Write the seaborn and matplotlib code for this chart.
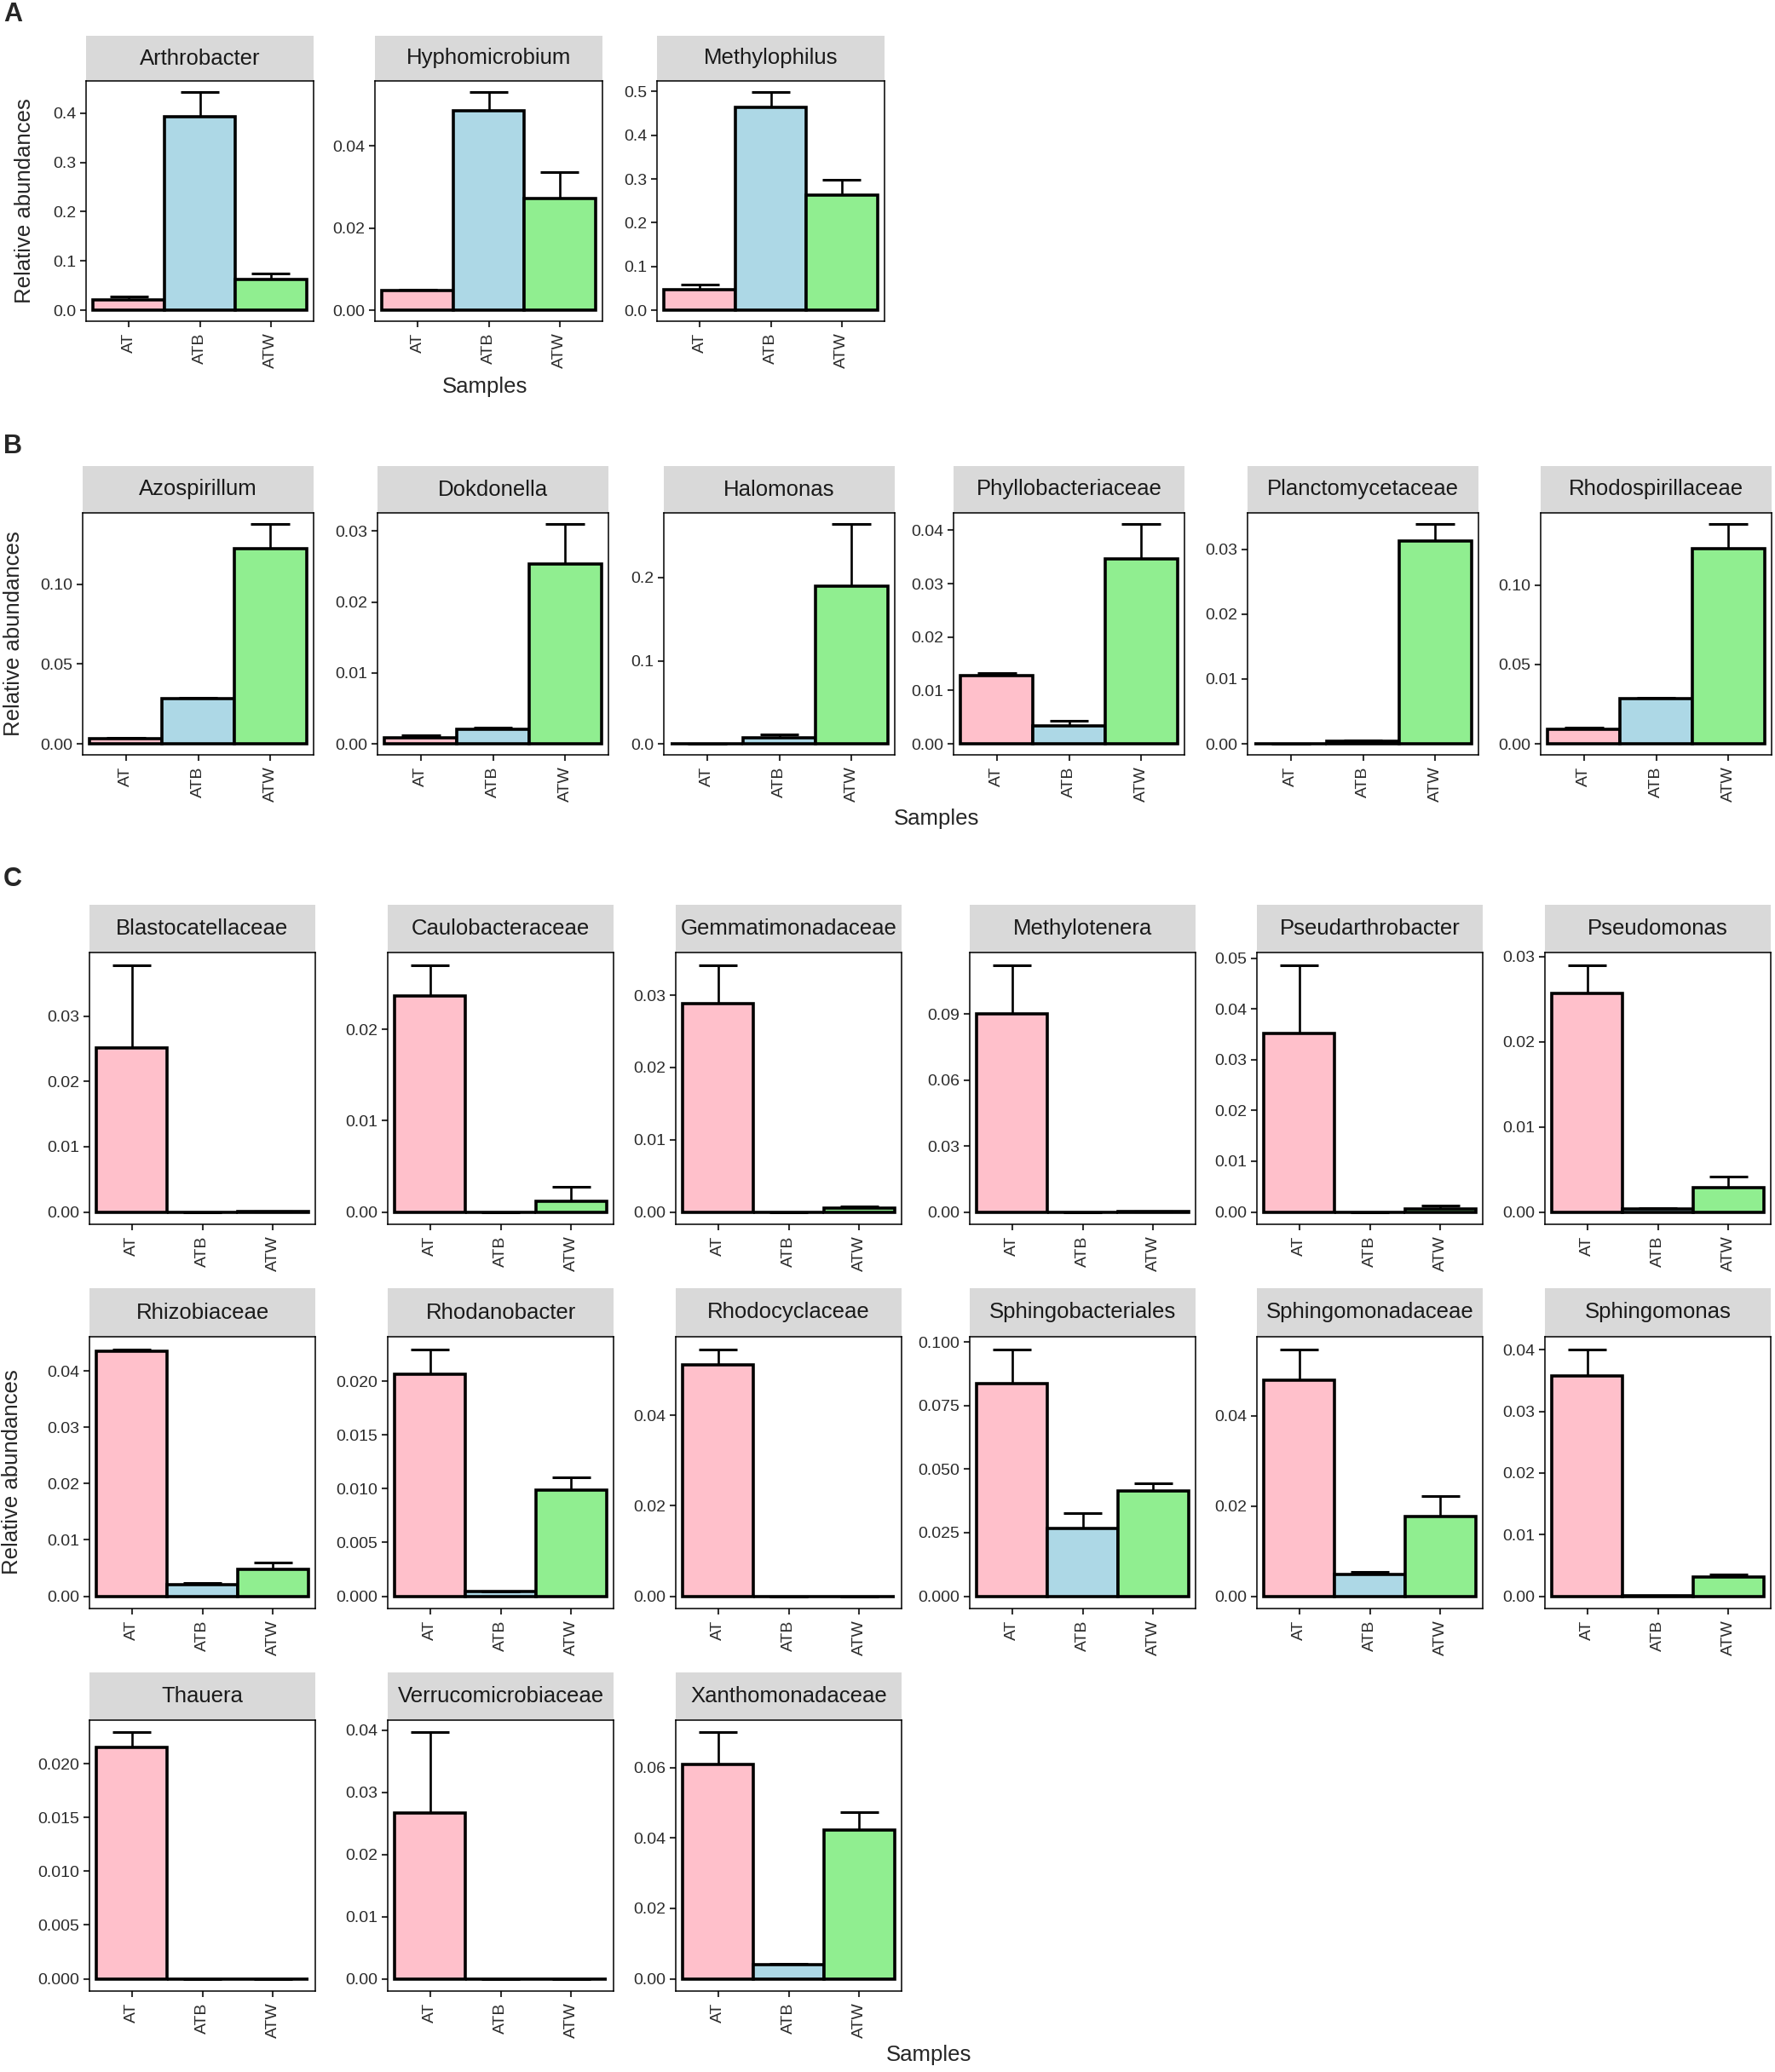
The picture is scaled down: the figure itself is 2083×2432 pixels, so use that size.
import numpy as np
import pandas as pd
import matplotlib
matplotlib.use("Agg")
import matplotlib.pyplot as plt
import seaborn as sns


# ======================================================
#   theme
# ======================================================
sns.set_theme(style="white", context="notebook")
plt.rcParams["font.family"] = ["Liberation Sans", "DejaVu Sans"]


# ======================================================
#   data (mean relative abundance, standard error)
# ======================================================
SAMPLES = ["AT", "ATB", "ATW"]
PALETTE = {"AT": "#FFC0CB", "ATB": "#ADD8E6", "ATW": "#90EE90"}

# ---- panel A ----
a_taxa = ["Arthrobacter", "Hyphomicrobium", "Methylophilus"]
a_mean = [
    [0.021, 0.392, 0.063],
    [0.0049, 0.0485, 0.0271],
    [0.048, 0.463, 0.2635],
]
a_se = [
    [0.007, 0.051, 0.011],
    [0.0001, 0.0046, 0.0065],
    [0.011, 0.036, 0.0355],
]
a_ticks = [
    [0.0, 0.1, 0.2, 0.3, 0.4],
    [0.00, 0.02, 0.04],
    [0.0, 0.1, 0.2, 0.3, 0.4, 0.5],
]
a_decimals = [1, 2, 1]

# ---- panel B ----
b_taxa = ["Azospirillum", "Dokdonella", "Halomonas",
          "Phyllobacteriaceae", "Planctomycetaceae", "Rhodospirillaceae"]
b_mean = [
    [0.003, 0.0281, 0.1222],
    [0.0009, 0.00204, 0.0253],
    [0.0, 0.0072, 0.190],
    [0.0128, 0.0034, 0.0346],
    [0.00005, 0.0004, 0.0312],
    [0.0091, 0.0283, 0.1229],
]
b_se = [
    [0.0006, 0.0009, 0.0155],
    [0.0003, 0.0002, 0.0057],
    [0.0, 0.0044, 0.0746],
    [0.0005, 0.0009, 0.0066],
    [0.00002, 0.0002, 0.0027],
    [0.0011, 0.0007, 0.0156],
]
b_ticks = [
    [0.00, 0.05, 0.10],
    [0.00, 0.01, 0.02, 0.03],
    [0.0, 0.1, 0.2],
    [0.00, 0.01, 0.02, 0.03, 0.04],
    [0.00, 0.01, 0.02, 0.03],
    [0.00, 0.05, 0.10],
]
b_decimals = [2, 2, 1, 2, 2, 2]

# ---- panel C ----
c_taxa = ["Blastocatellaceae", "Caulobacteraceae", "Gemmatimonadaceae",
          "Methylotenera", "Pseudarthrobacter", "Pseudomonas",
          "Rhizobiaceae", "Rhodanobacter", "Rhodocyclaceae",
          "Sphingobacteriales", "Sphingomonadaceae", "Sphingomonas",
          "Thauera", "Verrucomicrobiaceae", "Xanthomonadaceae"]
c_mean = [
    [0.0251, 0.0, 0.00002],
    [0.0237, 0.0, 0.0012],
    [0.0288, 0.0, 0.0005],
    [0.090, 0.0, 0.0002],
    [0.0352, 0.0, 0.0006],
    [0.0257, 0.0004, 0.0029],
    [0.0435, 0.0021, 0.0047],
    [0.0207, 0.0004, 0.0099],
    [0.0511, 0.0, 0.0],
    [0.0836, 0.0268, 0.0413],
    [0.0479, 0.0048, 0.0177],
    [0.0358, 0.0001, 0.0031],
    [0.0215, 0.0, 0.0],
    [0.0267, 0.0, 0.0],
    [0.0609, 0.0039, 0.0422],
]
c_se = [
    [0.0128, 0.0, 0.00001],
    [0.0034, 0.0, 0.0016],
    [0.0054, 0.0, 0.00025],
    [0.0223, 0.0, 0.0001],
    [0.0135, 0.0, 0.0007],
    [0.0033, 0.0001, 0.0013],
    [0.0004, 0.0003, 0.0013],
    [0.0023, 0.00005, 0.0012],
    [0.0035, 0.0, 0.0],
    [0.0136, 0.0060, 0.0031],
    [0.0069, 0.0005, 0.0045],
    [0.0043, 0.00002, 0.0004],
    [0.0014, 0.0, 0.0],
    [0.0129, 0.0, 0.0],
    [0.0091, 0.0004, 0.0051],
]
c_ticks = [
    [0.00, 0.01, 0.02, 0.03],
    [0.00, 0.01, 0.02],
    [0.00, 0.01, 0.02, 0.03],
    [0.00, 0.03, 0.06, 0.09],
    [0.00, 0.01, 0.02, 0.03, 0.04, 0.05],
    [0.00, 0.01, 0.02, 0.03],
    [0.00, 0.01, 0.02, 0.03, 0.04],
    [0.000, 0.005, 0.010, 0.015, 0.020],
    [0.00, 0.02, 0.04],
    [0.000, 0.025, 0.050, 0.075, 0.100],
    [0.00, 0.02, 0.04],
    [0.00, 0.01, 0.02, 0.03, 0.04],
    [0.000, 0.005, 0.010, 0.015, 0.020],
    [0.00, 0.01, 0.02, 0.03, 0.04],
    [0.00, 0.02, 0.04, 0.06],
]
c_decimals = [2, 2, 2, 2, 2, 2, 2, 3, 2, 3, 2, 2, 3, 2, 2]


# ======================================================
#   layout (pixels of the 2083 x 2432 canvas)
# ======================================================
W, H = 2083, 2432
DPI = 100

A_LEFTS = [101, 440, 771]
A_WIDTH = 267
A_ROWS = [(42, 95, 377)]           # strip top, panel top, panel bottom

B_LEFTS = [97, 443, 779, 1119, 1464, 1808]
B_WIDTH = 271
B_ROWS = [(547, 602, 886)]

C_LEFTS = [105, 455, 793, 1138, 1475, 1813]
C_WIDTH = 265
C_ROWS = [(1062, 1118, 1437), (1512, 1569, 1888), (1963, 2019, 2337)]

TICK_SIZE = 14
STRIP_SIZE = 18.5
TITLE_SIZE = 18.5


def place(left, top, width, height):
    return [left / W, 1 - (top + height) / H, width / W, height / H]


def draw_facet(fig, left, width, row, name, mean, se, ticks, decimals):
    strip_top, panel_top, panel_bottom = row

    # strip
    sax = fig.add_axes(place(left, strip_top, width, panel_top - strip_top))
    sax.set_facecolor("#D9D9D9")
    sax.set_xticks([])
    sax.set_yticks([])
    for s in sax.spines.values():
        s.set_visible(False)
    sax.text(0.5, 0.5, name, ha="center", va="center",
             fontsize=STRIP_SIZE, color="#1A1A1A", transform=sax.transAxes)

    # panel
    ax = fig.add_axes(place(left, panel_top, width, panel_bottom - panel_top))
    df = pd.DataFrame({"Sample": SAMPLES, "value": mean, "se": se})
    sns.barplot(data=df, x="Sample", y="value", hue="Sample",
                order=SAMPLES, hue_order=SAMPLES, palette=PALETTE,
                saturation=1, width=1.0, edgecolor="black", linewidth=2.6,
                errorbar=None, legend=False, ax=ax)

    xpos = np.arange(len(SAMPLES))
    m = df["value"].to_numpy()
    top = m + df["se"].to_numpy()
    ax.vlines(xpos, m, top, color="black", linewidth=1.9, zorder=5)
    ax.hlines(top, xpos - 0.27, xpos + 0.27, color="black",
              linewidth=2.2, zorder=5)

    ymax = top.max()
    ax.set_ylim(-0.05 * ymax, 1.05 * ymax)
    ax.set_xlim(-0.6, len(SAMPLES) - 0.4)
    ax.set_yticks(ticks)
    ax.set_yticklabels([f"{t:.{decimals}f}" for t in ticks])
    ax.set_xlabel("")
    ax.set_ylabel("")

    ax.tick_params(axis="both", direction="out", length=5, width=1.5,
                   color="#333333", labelsize=TICK_SIZE, labelcolor="#2B2B2B",
                   pad=3.5)
    ax.tick_params(axis="x", labelrotation=90, pad=4.5)
    ax.tick_params(left=True, bottom=True)
    for s in ax.spines.values():
        s.set_visible(True)
        s.set_color("black")
        s.set_linewidth(1.1)
    ax.set_facecolor("white")
    return ax


def draw_group(fig, lefts, width, rows, taxa, means, ses, ticks, decimals):
    n_cols = len(lefts)
    for i, name in enumerate(taxa):
        r, c = divmod(i, n_cols)
        draw_facet(fig, lefts[c], width, rows[r], name,
                   means[i], ses[i], ticks[i], decimals[i])


def fig_text(fig, x, y, s, **kw):
    fig.text(x / W, 1 - y / H, s, **kw)


# ======================================================
#   MAIN
# ======================================================
fig = plt.figure(figsize=(W / DPI, H / DPI), dpi=DPI)
fig.patch.set_facecolor("white")

draw_group(fig, A_LEFTS, A_WIDTH, A_ROWS, a_taxa, a_mean, a_se,
           a_ticks, a_decimals)
draw_group(fig, B_LEFTS, B_WIDTH, B_ROWS, b_taxa, b_mean, b_se,
           b_ticks, b_decimals)
draw_group(fig, C_LEFTS, C_WIDTH, C_ROWS, c_taxa, c_mean, c_se,
           c_ticks, c_decimals)

# panel letters
for letter, y in [("A", 17), ("B", 524), ("C", 1032)]:
    fig_text(fig, 4, y, letter, fontsize=22, fontweight="bold",
             ha="left", va="center")

# axis titles
for x, y in [(569, 454), (1099, 961), (1090, 2412)]:
    fig_text(fig, x, y, "Samples", fontsize=TITLE_SIZE,
             ha="center", va="center")
for x, y in [(29, 236), (16, 744), (14, 1728)]:
    fig_text(fig, x, y, "Relative abundances", fontsize=TITLE_SIZE,
             rotation=90, ha="center", va="center")

fig.savefig("out.png", dpi=DPI, facecolor="white")
plt.close(fig)
